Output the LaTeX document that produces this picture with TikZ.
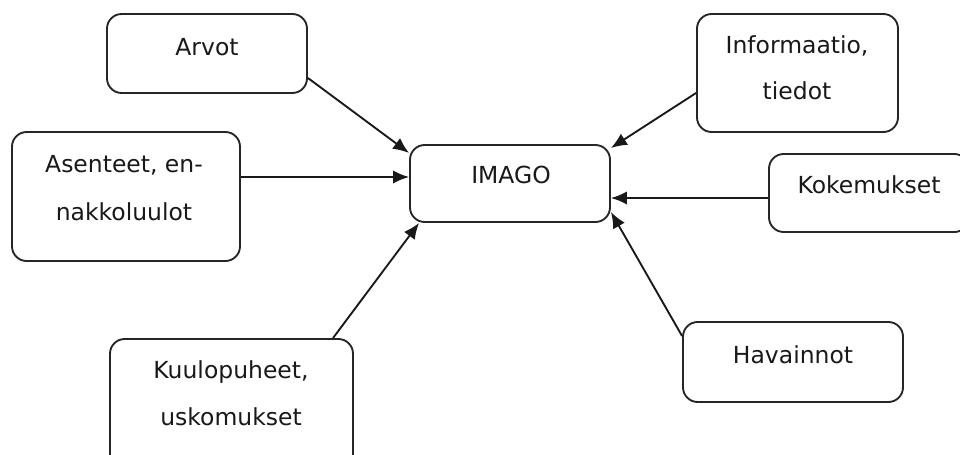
\documentclass[tikz,border=0pt]{standalone}
\usepackage{fontspec}
\setmainfont{DejaVu Sans}
\usetikzlibrary{calc,arrows.meta}
\begin{document}
\begin{tikzpicture}[x=0.75pt,y=-0.75pt,
  box/.style={draw=black!85,line width=1.4pt,rounded corners=11pt,fill=white,inner sep=0pt},
  lbl/.style={anchor=base,inner sep=0pt,text=black!90,font=\fontsize{17.6pt}{20pt}\selectfont},
  conn/.style={draw=black!90,line width=1.4pt,-{Latex[length=12pt,width=10pt]}}]
\useasboundingbox (0,0) rectangle (960,454);
\clip (0,0) rectangle (960,454);
\fill[white] (0,0) rectangle (960,454);
% boxes
\node[box,minimum width=150pt,minimum height=59.25pt] (arvot) at (207,53.5) {};
\node[box,minimum width=171pt,minimum height=96.75pt] (asent) at (126,196.5) {};
\node[box,minimum width=150pt,minimum height=57.75pt] (imago) at (510,183.5) {};
\node[box,minimum width=150.75pt,minimum height=88.5pt] (info) at (797.5,73) {};
\node[box,minimum width=150pt,minimum height=58.5pt] (koke) at (869,193) {};
\node[box,minimum width=165pt,minimum height=60pt] (hav) at (793,362) {};
\node[box,minimum width=182.25pt,minimum height=97.5pt] (kuulo) at (231.5,404) {};
% texts
\node[lbl] (tarvot) at (207,55) {Arvot};
\node[lbl] (tasent1) at (124,172) {Asenteet, en-};
\node[lbl] (tasent2) at (124,220) {nakkoluulot};
\node[lbl] (timago) at (511,183) {IMAGO};
\node[lbl] (tinfo1) at (797,53) {Informaatio,};
\node[lbl] (tinfo2) at (797,99) {tiedot};
\node[lbl] (tkoke) at (869,193) {Kokemukset};
\node[lbl] (thav) at (793,363) {Havainnot};
\node[lbl] (tkuulo1) at (231,378) {Kuulopuheet,};
\node[lbl] (tkuulo2) at (231,425) {uskomukset};
% connectors
\draw[conn] ($(arvot.east)+(0,24.5)$) -- ($(imago.west)+(0,-30.5)$);
\draw[conn] ($(asent.east)+(0,-19.5)$) -- ($(imago.west)+(0,-6.5)$);
\draw[conn] ($(kuulo.north)+(101.5,0)$) -- ($(imago.south west)+(10,0)$);
\draw[conn] ($(info.west)+(0,20)$) -- ($(imago.east)+(0,-35.5)$);
\draw[conn] ($(koke.west)+(0,5)$) -- ($(imago.east)+(0,14.5)$);
\draw[conn] ($(hav.west)+(0,-26)$) -- ($(imago.east)+(0,28.5)$);
\end{tikzpicture}
\end{document}
